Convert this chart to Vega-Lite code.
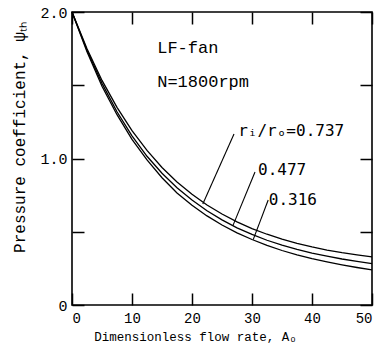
{
  "$schema": "https://vega.github.io/schema/vega-lite/v6.json",
  "width": 300,
  "height": 293,
  "autosize": {"type": "none"},
  "padding": {"left": 72, "top": 12, "right": 12, "bottom": 46},
  "background": "white",
  "config": {
    "view": {"stroke": "black", "strokeWidth": 1.6},
    "font": "Liberation Mono",
    "axis": {
      "grid": false,
      "domain": false,
      "tickColor": "black",
      "tickWidth": 1.5,
      "labelColor": "black",
      "titleColor": "black",
      "labelFont": "Liberation Mono",
      "titleFont": "Liberation Mono",
      "titleFontWeight": "normal"
    }
  },
  "datasets": {
    "curves": [
      {"A": 0, "psi": 2.0, "ratio": "0.737"},
      {"A": 2.5, "psi": 1.749, "ratio": "0.737"},
      {"A": 5, "psi": 1.533, "ratio": "0.737"},
      {"A": 7.5, "psi": 1.349, "ratio": "0.737"},
      {"A": 10, "psi": 1.19, "ratio": "0.737"},
      {"A": 12.5, "psi": 1.055, "ratio": "0.737"},
      {"A": 15, "psi": 0.939, "ratio": "0.737"},
      {"A": 17.5, "psi": 0.84, "ratio": "0.737"},
      {"A": 20, "psi": 0.756, "ratio": "0.737"},
      {"A": 22.5, "psi": 0.683, "ratio": "0.737"},
      {"A": 25, "psi": 0.621, "ratio": "0.737"},
      {"A": 27.5, "psi": 0.567, "ratio": "0.737"},
      {"A": 30, "psi": 0.522, "ratio": "0.737"},
      {"A": 32.5, "psi": 0.483, "ratio": "0.737"},
      {"A": 35, "psi": 0.449, "ratio": "0.737"},
      {"A": 37.5, "psi": 0.42, "ratio": "0.737"},
      {"A": 40, "psi": 0.396, "ratio": "0.737"},
      {"A": 42.5, "psi": 0.375, "ratio": "0.737"},
      {"A": 45, "psi": 0.357, "ratio": "0.737"},
      {"A": 47.5, "psi": 0.342, "ratio": "0.737"},
      {"A": 50, "psi": 0.328, "ratio": "0.737"},
      {"A": 0, "psi": 2.0, "ratio": "0.477"},
      {"A": 2.5, "psi": 1.739, "ratio": "0.477"},
      {"A": 5, "psi": 1.513, "ratio": "0.477"},
      {"A": 7.5, "psi": 1.319, "ratio": "0.477"},
      {"A": 10, "psi": 1.155, "ratio": "0.477"},
      {"A": 12.5, "psi": 1.015, "ratio": "0.477"},
      {"A": 15, "psi": 0.899, "ratio": "0.477"},
      {"A": 17.5, "psi": 0.8, "ratio": "0.477"},
      {"A": 20, "psi": 0.716, "ratio": "0.477"},
      {"A": 22.5, "psi": 0.643, "ratio": "0.477"},
      {"A": 25, "psi": 0.581, "ratio": "0.477"},
      {"A": 27.5, "psi": 0.527, "ratio": "0.477"},
      {"A": 30, "psi": 0.482, "ratio": "0.477"},
      {"A": 32.5, "psi": 0.442, "ratio": "0.477"},
      {"A": 35, "psi": 0.408, "ratio": "0.477"},
      {"A": 37.5, "psi": 0.379, "ratio": "0.477"},
      {"A": 40, "psi": 0.354, "ratio": "0.477"},
      {"A": 42.5, "psi": 0.333, "ratio": "0.477"},
      {"A": 45, "psi": 0.314, "ratio": "0.477"},
      {"A": 47.5, "psi": 0.298, "ratio": "0.477"},
      {"A": 50, "psi": 0.283, "ratio": "0.477"},
      {"A": 0, "psi": 2.0, "ratio": "0.316"},
      {"A": 2.5, "psi": 1.729, "ratio": "0.316"},
      {"A": 5, "psi": 1.493, "ratio": "0.316"},
      {"A": 7.5, "psi": 1.299, "ratio": "0.316"},
      {"A": 10, "psi": 1.13, "ratio": "0.316"},
      {"A": 12.5, "psi": 0.99, "ratio": "0.316"},
      {"A": 15, "psi": 0.869, "ratio": "0.316"},
      {"A": 17.5, "psi": 0.765, "ratio": "0.316"},
      {"A": 20, "psi": 0.681, "ratio": "0.316"},
      {"A": 22.5, "psi": 0.608, "ratio": "0.316"},
      {"A": 25, "psi": 0.546, "ratio": "0.316"},
      {"A": 27.5, "psi": 0.492, "ratio": "0.316"},
      {"A": 30, "psi": 0.447, "ratio": "0.316"},
      {"A": 32.5, "psi": 0.407, "ratio": "0.316"},
      {"A": 35, "psi": 0.372, "ratio": "0.316"},
      {"A": 37.5, "psi": 0.342, "ratio": "0.316"},
      {"A": 40, "psi": 0.316, "ratio": "0.316"},
      {"A": 42.5, "psi": 0.294, "ratio": "0.316"},
      {"A": 45, "psi": 0.274, "ratio": "0.316"},
      {"A": 47.5, "psi": 0.256, "ratio": "0.316"},
      {"A": 50, "psi": 0.24, "ratio": "0.316"}
    ],
    "leaders": [
      {"xa": 27.0, "ya": 1.167, "xb": 21.8, "yb": 0.69},
      {"xa": 30.5, "ya": 0.908, "xb": 26.8, "yb": 0.54},
      {"xa": 32.7, "ya": 0.717, "xb": 30.2, "yb": 0.446}
    ],
    "ratioLabels": [
      {"x": 27.7, "y": 1.188, "label": "rᵢ/rₒ=0.737"},
      {"x": 31.0, "y": 0.922, "label": "0.477"},
      {"x": 32.8, "y": 0.717, "label": "0.316"}
    ],
    "notes": [
      {"x": 14.2, "y": 1.754, "label": "LF-fan"},
      {"x": 14.2, "y": 1.522, "label": "N=1800rpm"}
    ]
  },
  "layer": [
    {
      "data": {"name": "curves"},
      "mark": {"type": "line", "color": "black", "strokeWidth": 1.3},
      "encoding": {
        "x": {
          "field": "A", "type": "quantitative",
          "scale": {"domain": [0, 50], "nice": false},
          "axis": {
            "orient": "bottom", "values": [0, 10, 20, 30, 40, 50],
            "tickSize": -12, "labelFontSize": 14, "labelPadding": 18,
            "title": "Dimensionless flow rate, Aₒ", "titleFontSize": 12.5,
            "titleX": 123, "titleY": 31, "titleBaseline": "middle", "titleAnchor": null
          }
        },
        "y": {
          "field": "psi", "type": "quantitative",
          "scale": {"domain": [0, 2], "nice": false},
          "axis": {
            "orient": "left", "values": [0, 0.5, 1, 1.5, 2],
            "tickSize": -12, "labelFontSize": 15, "labelPadding": 17,
            "labelExpr": "datum.value == 0 ? '0' : (datum.value == 1 ? '1.0' : (datum.value == 2 ? '2.0' : ''))",
            "title": "Pressure coefficient, ψₜₕ", "titleFontSize": 16,
            "titleX": -53, "titleY": 125, "titleAngle": 270,
            "titleAlign": "center", "titleBaseline": "middle"
          }
        },
        "detail": {"field": "ratio"}
      }
    },
    {
      "data": {"name": "leaders"},
      "mark": {"type": "rule", "color": "black", "strokeWidth": 1.1},
      "encoding": {
        "x": {
          "field": "xa", "type": "quantitative",
          "axis": {"orient": "top", "values": [0, 10, 20, 30, 40, 50], "tickSize": -12, "labels": false, "title": null}
        },
        "y": {
          "field": "ya", "type": "quantitative",
          "axis": {"orient": "right", "values": [0, 0.5, 1, 1.5, 2], "tickSize": -12, "labels": false, "title": null}
        },
        "x2": {"field": "xb"},
        "y2": {"field": "yb"}
      }
    },
    {
      "data": {"name": "ratioLabels"},
      "mark": {"type": "text", "align": "left", "baseline": "middle", "fontSize": 16, "font": "DejaVu Sans Mono", "color": "black"},
      "encoding": {
        "x": {"field": "x", "type": "quantitative", "axis": null},
        "y": {"field": "y", "type": "quantitative", "axis": null},
        "text": {"field": "label"}
      }
    },
    {
      "data": {"name": "notes"},
      "mark": {"type": "text", "align": "left", "baseline": "middle", "fontSize": 17, "font": "Liberation Mono", "color": "black"},
      "encoding": {
        "x": {"field": "x", "type": "quantitative", "axis": null},
        "y": {"field": "y", "type": "quantitative", "axis": null},
        "text": {"field": "label"}
      }
    }
  ],
  "resolve": {"axis": {"x": "independent", "y": "independent"}}
}
